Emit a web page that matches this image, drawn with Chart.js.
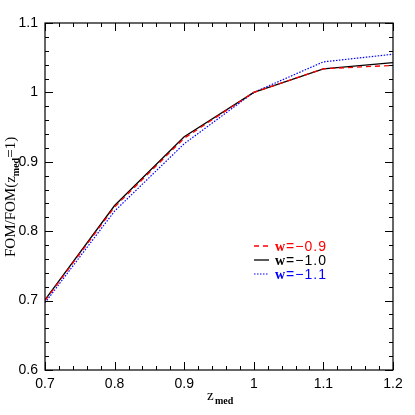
<!DOCTYPE html>
<html>
<head>
    <title>FOM vs z_med</title>
    <script src="https://cdn.jsdelivr.net/npm/chart.js"></script>
    <style>
        html, body { margin: 0; padding: 0; background: #fff; }
        #box { width: 415px; height: 415px; }
    </style>
</head>
<body>
    <div id="box"><canvas id="fomChart" width="415" height="415"></canvas></div>
</body>
</html>

<script>
    // data
    const zMed = [0.7, 0.8, 0.9, 1.0, 1.1, 1.2];
    const fomW09 = [0.700, 0.835, 0.934, 1.000, 1.034, 1.039];
    const fomW10 = [0.701, 0.837, 0.936, 1.000, 1.034, 1.043];
    const fomW11 = [0.697, 0.829, 0.926, 1.000, 1.044, 1.055];
    const seriesLabels = ['w=\u22120.9', 'w=\u22121.0', 'w=\u22121.1'];
    const xTicks = [0.7, 0.8, 0.9, 1.0, 1.1, 1.2];
    const yTicks = [0.6, 0.7, 0.8, 0.9, 1.0, 1.1];

    const toPoints = ys => zMed.map((x, i) => ({ x: x, y: ys[i] }));
    const fmt = v => parseFloat(Number(v).toFixed(2)).toString();

    // frame, inward ticks, axis titles and legend
    const framePlugin = {
        id: 'frame',
        afterDraw(chart) {
            const ctx = chart.ctx;
            const a = chart.chartArea;
            const xs = chart.scales.x, ys = chart.scales.y;
            ctx.save();
            ctx.strokeStyle = '#000';
            ctx.lineWidth = 1.2;
            ctx.strokeRect(a.left, a.top, a.right - a.left, a.bottom - a.top);

            ctx.lineWidth = 1;
            ctx.beginPath();
            for (let i = 0; i <= 25; i++) {
                const len = i % 5 === 0 ? 8 : 4;
                const px = Math.round(xs.getPixelForValue(xs.min + i * 0.02)) + 0.5;
                ctx.moveTo(px, a.bottom); ctx.lineTo(px, a.bottom - len);
                ctx.moveTo(px, a.top); ctx.lineTo(px, a.top + len);
                const py = Math.round(ys.getPixelForValue(ys.min + i * 0.02)) + 0.5;
                ctx.moveTo(a.left, py); ctx.lineTo(a.left + len, py);
                ctx.moveTo(a.right, py); ctx.lineTo(a.right - len, py);
            }
            ctx.stroke();

            // x title z_med
            ctx.fillStyle = '#000';
            ctx.textBaseline = 'alphabetic';
            ctx.textAlign = 'left';
            ctx.font = '15px "Liberation Serif"';
            const cx = (a.left + a.right) / 2;
            ctx.fillText('z', cx - 12, 400);
            ctx.font = 'bold 10px "Liberation Serif"';
            ctx.fillText('med', cx - 4, 404);

            // y title FOM/FOM(z_med=1)
            ctx.save();
            ctx.translate(15, 257);
            ctx.rotate(-Math.PI / 2);
            ctx.font = '15px "Liberation Serif"';
            let t = 'FOM/FOM(z';
            ctx.fillText(t, 0, 0);
            let w = ctx.measureText(t).width;
            ctx.font = 'bold 10px "Liberation Serif"';
            ctx.fillText('med', w, 4);
            w += ctx.measureText('med').width;
            ctx.font = '15px "Liberation Serif"';
            ctx.fillText('=1)', w, 0);
            ctx.restore();

            // legend
            chart.data.datasets.forEach((ds, i) => {
                const y = 246 + i * 14;
                ctx.strokeStyle = ds.borderColor;
                ctx.lineWidth = ds.borderWidth;
                ctx.setLineDash(ds.borderDash || []);
                ctx.beginPath();
                ctx.moveTo(254, y); ctx.lineTo(269, y);
                ctx.stroke();
                ctx.setLineDash([]);
                ctx.fillStyle = ds.borderColor;
                ctx.textBaseline = 'middle';
                ctx.font = 'bold 14px "Liberation Serif"';
                ctx.fillText('w', 275, y + 1);
                const ww = ctx.measureText('w').width;
                ctx.font = '14px "Liberation Sans"';
                ctx.letterSpacing = '1px';
                ctx.fillText(ds.label.slice(1), 275 + ww + 1, y + 1);
                ctx.letterSpacing = '0px';
            });
            ctx.restore();
        }
    };

    const ctx = document.getElementById('fomChart').getContext('2d');
    const chart = new Chart(ctx, {
        type: 'line',
        data: {
            datasets: [{
                label: seriesLabels[0],
                data: toPoints(fomW09),
                borderColor: '#ff0000',
                borderWidth: 1.3,
                borderDash: [5, 4]
            }, {
                label: seriesLabels[1],
                data: toPoints(fomW10),
                borderColor: '#000000',
                borderWidth: 1.3
            }, {
                label: seriesLabels[2],
                data: toPoints(fomW11),
                borderColor: '#0000ff',
                borderWidth: 1.2,
                borderDash: [1.5, 1.5]
            }]
        },
        options: {
            responsive: false,
            animation: false,
            layout: { padding: { top: 23, right: 22, left: 0, bottom: 0 } },
            elements: { point: { radius: 0 }, line: { tension: 0 } },
            plugins: { legend: { display: false }, tooltip: { enabled: false } },
            scales: {
                x: {
                    type: 'linear',
                    min: 0.7,
                    max: 1.2,
                    afterFit: s => { s.height = 45; },
                    afterBuildTicks: s => { s.ticks = xTicks.map(v => ({ value: v })); },
                    grid: { display: false, drawTicks: false },
                    border: { display: false },
                    ticks: {
                        padding: 6,
                        maxRotation: 0,
                        color: '#000',
                        font: { family: 'Liberation Sans', size: 14 },
                        callback: v => fmt(v)
                    }
                },
                y: {
                    min: 0.6,
                    max: 1.1,
                    afterFit: s => { s.width = 45; },
                    afterBuildTicks: s => { s.ticks = yTicks.map(v => ({ value: v })); },
                    grid: { display: false, drawTicks: false },
                    border: { display: false },
                    ticks: {
                        padding: 7,
                        color: '#000',
                        font: { family: 'Liberation Sans', size: 14 },
                        callback: v => fmt(v)
                    }
                }
            }
        },
        plugins: [framePlugin]
    });
</script>
